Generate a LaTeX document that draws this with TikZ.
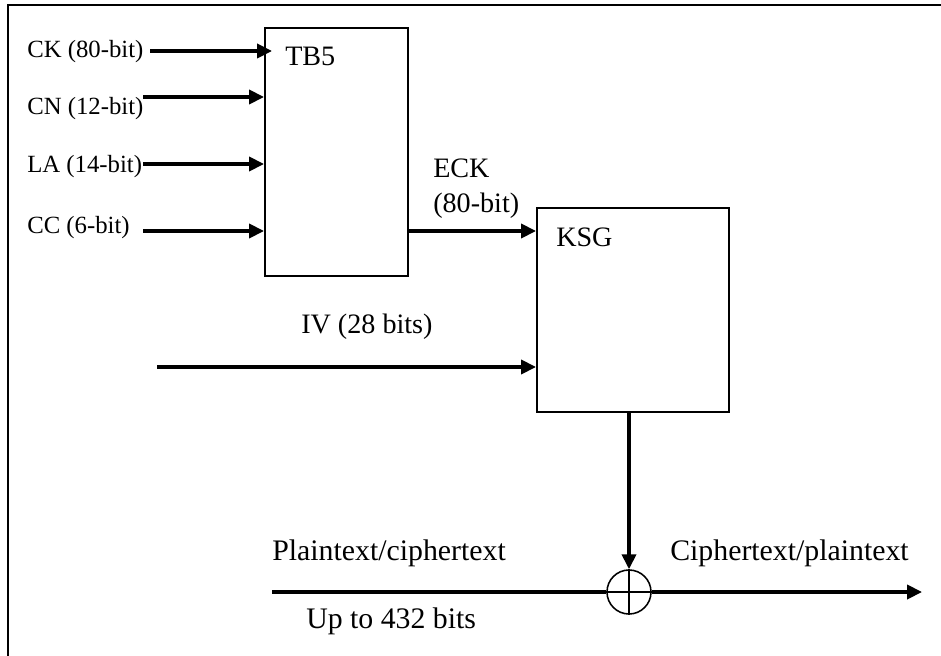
\documentclass[tikz,border=0pt]{standalone}
\usepackage{fontspec}
\setmainfont{Liberation Serif}
\usetikzlibrary{arrows.meta}

\begin{document}
\begin{tikzpicture}[x=0.025cm,y=-0.025cm,
  >={Triangle[length=0.37cm,width=0.35cm]},
  blk/.style={draw,line width=1.4pt,inner sep=0pt},
  wire/.style={line width=2.4pt},
  sig/.style={wire,->},
  lbl/.style={inner sep=0pt,anchor=west,font=\fontsize{17.6}{20}\selectfont},
  big/.style={inner sep=0pt,anchor=west,font=\fontsize{20}{24}\selectfont},
  bot/.style={big,font=\fontsize{21.2}{24}\selectfont}]
\useasboundingbox (0,0) rectangle (941,656);
\draw[line width=1.2pt] (8,656) -- (8,5) -- (941,5);
% blocks
\node[blk,minimum width=3.575cm,minimum height=6.2cm] (tb5) at (336.5,152) {};
\node[blk,minimum width=4.8cm,minimum height=5.1cm] (ksg) at (633,310) {};
\node[draw,circle,line width=1.1pt,minimum size=1.1cm,inner sep=0pt] (xor) at (629,592) {};
\draw[line width=1.1pt] (xor.north) -- (xor.south) (xor.west) -- (xor.east);
\node[big] (tb5lbl) at (285,56) {TB5};
\node[big] (ksglbl) at (556,237) {KSG};
% inputs of TB5
\node[lbl] (ck) at (27,52) {CK (80-bit)};
\node[lbl] (cn) at (27,109) {CN (12-bit)};
\node[lbl] (la) at (27,167) {LA (14-bit)};
\node[lbl] (cc) at (27,228) {CC (6-bit)};
\coordinate (ckin) at (150,51);
\coordinate (cnin) at (143,97);
\coordinate (lain) at (143,164);
\coordinate (ccin) at (143,231);
\draw[sig] (ckin) -- ([xshift=0.2cm]ckin -| tb5.west);
\draw[sig] (cnin) -- (cnin -| tb5.west);
\draw[sig] (lain) -- (lain -| tb5.west);
\draw[sig] (ccin) -- (ccin -| tb5.west);
% TB5 to KSG
\coordinate (eck) at (408,231);
\draw[sig] (eck) -- (eck -| ksg.west);
\node[big] (ecklbl) at (433,168) {ECK};
\node[big] (ecklen) at (433,206) {(80-bit)};
\coordinate (ivin) at (157,367);
\draw[sig] (ivin) -- (ivin -| ksg.west);
\node[big] (ivlbl) at (301,327) {IV (28 bits)};
% keystream and data path
\draw[sig] (ksg.south -| xor) -- (xor.north);
\coordinate (ptin) at (272,592);
\coordinate (ctout) at (922,592);
\draw[wire] (ptin) -- (xor.west);
\draw[sig] (xor.east) -- (ctout);
\node[bot] (ptlbl) at (272,553) {Plaintext/ciphertext};
\node[bot] (ctlbl) at (670,553) {Ciphertext/plaintext};
\node[bot] (uplbl) at (306,621) {Up to 432 bits};
\end{tikzpicture}
\end{document}
